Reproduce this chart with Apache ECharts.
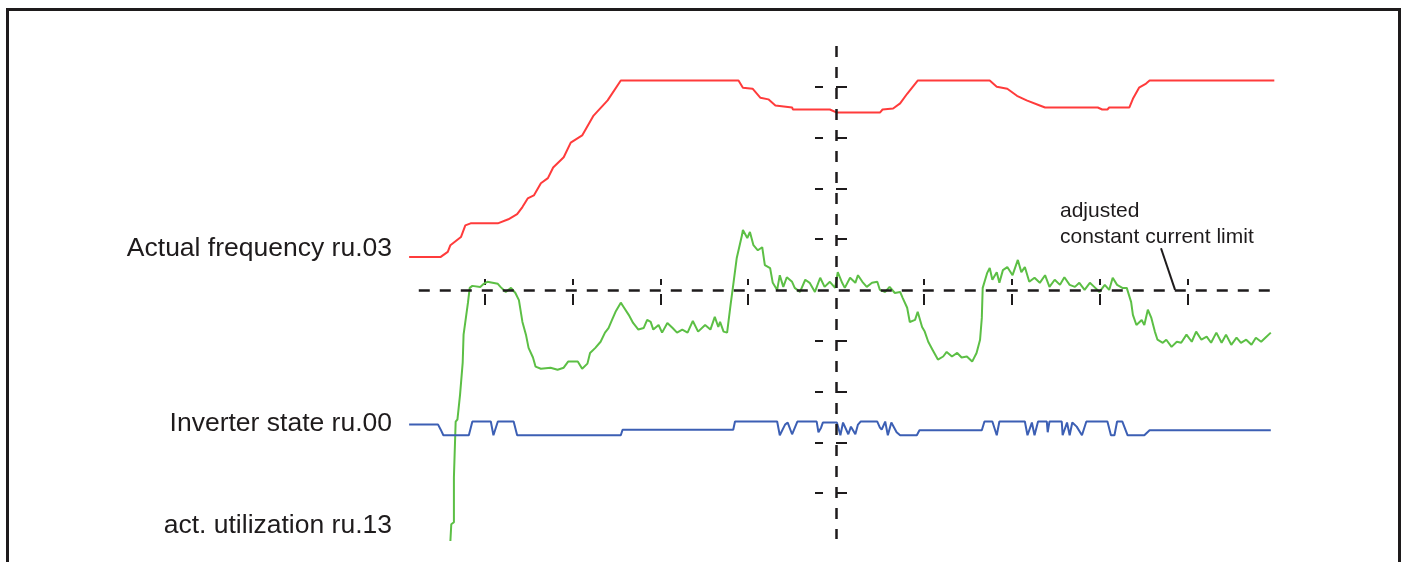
<!DOCTYPE html>
<html>
<head>
<meta charset="utf-8">
<title>Constant current limit</title>
<script src="https://cdn.jsdelivr.net/npm/echarts@6/dist/echarts.min.js"></script>
<style>
  html, body { margin: 0; padding: 0; background: #fff; }
  #chart { width: 1408px; height: 562px; }
</style>
</head>
<body>
<div id="chart"></div>
<script>
// time in scope divisions (0 = cursor), level in divisions (0 = current limit)
const divTicks = [-4, -3, -2, -1, 1, 2, 3, 4]
const timeAxisRange = [-4.9, 5.0]
const levelAxisRange = [-4.96, 4.8]
// visible length of the dashed cursor lines
const cursorTime = [-4.75, 4.95]
const cursorLevel = [-4.9, 4.8]

// Actual frequency ru.03
const freqTime = [
  -4.86, -4.5, -4.42, -4.39, -4.27, -4.22, -4.16, -3.85, -3.73, -3.63,
  -3.57, -3.51, -3.44, -3.36, -3.28, -3.22, -3.10, -3.02, -2.89, -2.76,
  -2.60, -2.45, -1.11, -1.06, -0.95, -0.86, -0.77, -0.69, -0.50, -0.49,
  -0.07, 0.01, 0.50, 0.53, 0.65, 0.73, 0.81, 0.93, 1.75, 1.83,
  1.95, 2.06, 2.17, 2.32, 2.38, 2.98, 3.03, 3.09, 3.11, 3.34,
  3.38, 3.45, 3.53, 3.57, 4.99
]
const freqLevel = [
  0.65, 0.65, 0.75, 0.88, 1.04, 1.27, 1.31, 1.31, 1.39, 1.49,
  1.63, 1.80, 1.86, 2.10, 2.20, 2.41, 2.61, 2.90, 3.04, 3.43,
  3.73, 4.12, 4.12, 3.98, 3.96, 3.78, 3.75, 3.63, 3.59, 3.55,
  3.55, 3.49, 3.49, 3.55, 3.57, 3.67, 3.86, 4.12, 4.12, 4.00,
  3.96, 3.82, 3.73, 3.63, 3.59, 3.59, 3.55, 3.55, 3.59, 3.59,
  3.76, 3.98, 4.06, 4.12, 4.12
]

// Inverter state ru.00
const stateTime = [
  -4.86, -4.53, -4.50, -4.47, -4.18, -4.14, -3.93, -3.90, -3.85, -3.67,
  -3.63, -2.45, -2.43, -1.17, -1.15, -0.67, -0.64, -0.58, -0.55, -0.50,
  -0.44, -0.22, -0.20, -0.17, -0.15, 0.01, 0.05, 0.08, 0.14, 0.17,
  0.22, 0.25, 0.28, 0.47, 0.50, 0.52, 0.56, 0.59, 0.63, 0.69,
  0.73, 0.92, 0.95, 1.66, 1.69, 1.78, 1.83, 1.86, 2.15, 2.18,
  2.23, 2.26, 2.30, 2.40, 2.41, 2.43, 2.57, 2.58, 2.63, 2.66,
  2.69, 2.74, 2.80, 2.85, 3.09, 3.13, 3.17, 3.20, 3.26, 3.32,
  3.51, 3.57, 4.95
]
const stateLevel = [
  -2.65, -2.65, -2.75, -2.86, -2.86, -2.59, -2.59, -2.86, -2.59, -2.59,
  -2.86, -2.86, -2.75, -2.75, -2.59, -2.59, -2.86, -2.65, -2.61, -2.84,
  -2.59, -2.59, -2.80, -2.71, -2.61, -2.61, -2.86, -2.61, -2.84, -2.69,
  -2.84, -2.65, -2.59, -2.59, -2.71, -2.75, -2.59, -2.86, -2.61, -2.80,
  -2.86, -2.86, -2.76, -2.76, -2.59, -2.59, -2.86, -2.59, -2.59, -2.86,
  -2.61, -2.86, -2.59, -2.59, -2.80, -2.59, -2.59, -2.86, -2.61, -2.86,
  -2.61, -2.69, -2.86, -2.59, -2.59, -2.86, -2.86, -2.59, -2.59, -2.86,
  -2.86, -2.76, -2.76
]

// act. utilization ru.13
const utilTime = [
  -4.39, -4.38, -4.35, -4.35, -4.33, -4.33, -4.31, -4.28, -4.25, -4.24,
  -4.22, -4.19, -4.17, -4.14, -4.05, -4.01, -3.97, -3.91, -3.85, -3.82,
  -3.76, -3.70, -3.65, -3.61, -3.57, -3.53, -3.50, -3.45, -3.42, -3.36,
  -3.25, -3.17, -3.10, -3.05, -2.94, -2.89, -2.83, -2.80, -2.74, -2.68,
  -2.63, -2.59, -2.55, -2.51, -2.45, -2.42, -2.36, -2.31, -2.25, -2.19,
  -2.15, -2.11, -2.08, -2.02, -1.98, -1.92, -1.86, -1.81, -1.75, -1.69,
  -1.63, -1.57, -1.49, -1.43, -1.38, -1.34, -1.32, -1.28, -1.24, -1.20,
  -1.17, -1.13, -1.07, -1.06, -1.01, -0.98, -0.94, -0.89, -0.84, -0.81,
  -0.75, -0.72, -0.67, -0.64, -0.60, -0.56, -0.50, -0.47, -0.41, -0.35,
  -0.30, -0.24, -0.18, -0.13, -0.07, -0.01, 0.02, 0.07, 0.10, 0.16,
  0.22, 0.25, 0.30, 0.35, 0.41, 0.47, 0.50, 0.56, 0.61, 0.67,
  0.73, 0.76, 0.81, 0.84, 0.90, 0.93, 0.98, 1.01, 1.05, 1.10,
  1.16, 1.22, 1.26, 1.32, 1.38, 1.43, 1.49, 1.55, 1.60, 1.64,
  1.66, 1.67, 1.72, 1.75, 1.78, 1.83, 1.86, 1.90, 1.95, 2.01,
  2.07, 2.11, 2.15, 2.20, 2.26, 2.32, 2.38, 2.43, 2.49, 2.55,
  2.60, 2.66, 2.72, 2.77, 2.83, 2.89, 2.94, 3.00, 3.06, 3.11,
  3.15, 3.20, 3.26, 3.31, 3.36, 3.38, 3.42, 3.48, 3.51, 3.55,
  3.59, 3.63, 3.66, 3.72, 3.76, 3.82, 3.88, 3.93, 3.99, 4.05,
  4.10, 4.16, 4.22, 4.27, 4.33, 4.39, 4.44, 4.50, 4.56, 4.61,
  4.67, 4.73, 4.78, 4.84, 4.90, 4.95
]
const utilLevel = [
  -4.94, -4.61, -4.57, -3.69, -3.67, -2.59, -2.55, -2.06, -1.43, -0.88,
  -0.63, -0.25, 0.04, 0.08, 0.06, 0.12, 0.16, 0.14, 0.12, 0.06,
  -0.04, 0.04, -0.06, -0.20, -0.63, -0.88, -1.14, -1.33, -1.51, -1.55,
  -1.53, -1.57, -1.53, -1.41, -1.41, -1.55, -1.45, -1.24, -1.14, -1.02,
  -0.84, -0.75, -0.59, -0.43, -0.25, -0.33, -0.49, -0.65, -0.78, -0.75,
  -0.59, -0.63, -0.78, -0.69, -0.84, -0.65, -0.75, -0.84, -0.78, -0.84,
  -0.61, -0.82, -0.69, -0.78, -0.53, -0.73, -0.63, -0.82, -0.84, -0.29,
  0.10, 0.63, 1.08, 1.18, 1.02, 1.14, 0.88, 0.78, 0.84, 0.49,
  0.43, 0.14, 0.00, 0.29, 0.06, 0.25, 0.16, 0.04, -0.04, 0.20,
  0.14, -0.04, 0.24, 0.06, 0.16, 0.04, 0.35, 0.14, 0.04, 0.24,
  0.14, 0.29, 0.16, 0.06, 0.14, 0.16, 0.00, -0.04, 0.06, -0.06,
  -0.04, -0.16, -0.35, -0.63, -0.59, -0.43, -0.73, -0.82, -1.02, -1.18,
  -1.37, -1.31, -1.22, -1.31, -1.24, -1.33, -1.31, -1.41, -1.24, -0.98,
  -0.55, 0.04, 0.33, 0.43, 0.20, 0.35, 0.14, 0.39, 0.45, 0.29,
  0.59, 0.35, 0.45, 0.16, 0.24, 0.14, 0.29, 0.06, 0.20, 0.10,
  0.25, 0.10, 0.06, 0.14, 0.00, 0.14, 0.06, -0.04, 0.10, 0.00,
  0.24, 0.10, 0.04, 0.04, -0.24, -0.49, -0.69, -0.59, -0.69, -0.39,
  -0.55, -0.82, -0.98, -1.04, -0.98, -1.12, -1.02, -1.04, -0.88, -1.02,
  -0.82, -0.98, -0.92, -1.04, -0.84, -1.04, -0.88, -1.08, -0.94, -1.04,
  -0.98, -1.08, -0.94, -1.02, -0.92, -0.84
]

// pointer of the "adjusted constant current limit" note
const leaderTime = [3.70, 3.86]
const leaderLevel = [0.82, 0.0]

const ink = '#1e1b1c'
const labelFont = '26.5px "Liberation Sans", Arial, sans-serif'
const noteFont = '21px "Liberation Sans", Arial, sans-serif'

const toPairs = (t, v) => t.map((x, i) => [x, v[i]])

const dashedLine = { color: ink, width: 2.5, type: [11, 10] }
const tickLine = (dash) => ({ color: ink, width: 2, type: dash })

// axes only carry the cursor ticks; the dashed cursor lines come from markLine
const makeAxis = (range, position, tickLen, dash) => ({
  type: 'value',
  min: range[0],
  max: range[1],
  position: position,
  axisLine: { show: false, onZero: true, onZeroAxisIndex: 0 },
  axisTick: { show: true, customValues: divTicks, length: tickLen, lineStyle: tickLine(dash) },
  axisLabel: { show: false },
  splitLine: { show: false },
})

const traceSeries = (name, data, color) => ({
  name: name,
  type: 'line',
  data: data,
  showSymbol: false,
  clip: false,
  silent: true,
  lineStyle: { color: color, width: 2 },
  z: 3,
})

const chart = echarts.init(document.getElementById('chart'))

const option = {
  animation: false,
  backgroundColor: '#fff',
  grid: { left: 405.6, right: 132.8, top: 46, bottom: 20, outerBoundsMode: 'none' },
  xAxis: [
    makeAxis(timeAxisRange, 'bottom', 15, [0, 4, 11, 10]),
    makeAxis(timeAxisRange, 'top', 11, [0, 5, 6, 10]),
  ],
  yAxis: [
    makeAxis(levelAxisRange, 'left', 21, [0, 13, 8, 10]),
    makeAxis(levelAxisRange, 'right', 11, 'solid'),
  ],
  graphic: [
    {
      type: 'rect',
      silent: true,
      shape: { x: 7.5, y: 9.5, width: 1392, height: 600 },
      style: { fill: 'none', stroke: ink, lineWidth: 3 },
    },
    {
      type: 'text', x: 392, y: 249,
      style: { text: 'Actual frequency ru.03', font: labelFont, fill: ink, align: 'right', verticalAlign: 'middle' },
    },
    {
      type: 'text', x: 392, y: 424,
      style: { text: 'Inverter state ru.00', font: labelFont, fill: ink, align: 'right', verticalAlign: 'middle' },
    },
    {
      type: 'text', x: 392, y: 526,
      style: { text: 'act. utilization ru.13', font: labelFont, fill: ink, align: 'right', verticalAlign: 'middle' },
    },
    {
      type: 'text', x: 1060, y: 211,
      style: { text: 'adjusted', font: noteFont, fill: ink, align: 'left', verticalAlign: 'middle' },
    },
    {
      type: 'text', x: 1060, y: 237,
      style: { text: 'constant current limit', font: noteFont, fill: ink, align: 'left', verticalAlign: 'middle' },
    },
  ],
  series: [
    {
      name: 'leader',
      type: 'line',
      data: toPairs(leaderTime, leaderLevel),
      showSymbol: false,
      silent: true,
      lineStyle: { color: ink, width: 2 },
      z: 2,
      markLine: {
        silent: true,
        symbol: ['none', 'none'],
        label: { show: false },
        lineStyle: dashedLine,
        data: [
          [{ coord: [cursorTime[0], 0] }, { coord: [cursorTime[1], 0] }],
          [{ coord: [0, cursorLevel[1]] }, { coord: [0, cursorLevel[0]] }],
        ],
      },
    },
    traceSeries('Actual frequency ru.03', toPairs(freqTime, freqLevel), '#ff3b3b'),
    traceSeries('act. utilization ru.13', toPairs(utilTime, utilLevel), '#5cbf45'),
    traceSeries('Inverter state ru.00', toPairs(stateTime, stateLevel), '#3c5fb4'),
  ],
}

chart.setOption(option)
</script>
</body>
</html>
